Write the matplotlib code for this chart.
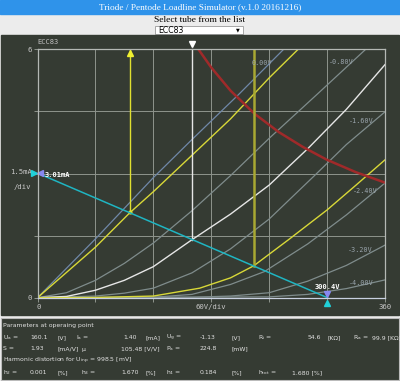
import numpy as np
import matplotlib.pyplot as plt
from matplotlib.patches import Rectangle

plt.rcParams['mathtext.default'] = 'regular'

# characteristic curves: anode voltage [V], anode current [mA]
va_g0 = [0, 60, 120, 160, 208, 255]
ia_g0 = [0, 1.42, 2.90, 3.82, 4.90, 6.0]
va_g08 = [0, 30, 60, 90, 120, 160, 200, 240, 290, 340]
ia_g08 = [0, 0.12, 0.42, 0.83, 1.32, 2.10, 2.95, 3.85, 4.92, 6.0]
va_g16 = [0, 60, 90, 120, 160, 200, 240, 287, 320, 360]
ia_g16 = [0, 0.04, 0.11, 0.23, 0.60, 1.18, 1.90, 2.95, 3.70, 4.49]
va_g24 = [0, 120, 160, 200, 235, 280, 320, 360]
ia_g24 = [0, 0.01, 0.08, 0.32, 0.63, 1.30, 2.00, 2.77]
va_g32 = [0, 160, 200, 240, 280, 320, 360]
ia_g32 = [0, 0.01, 0.04, 0.12, 0.40, 0.78, 1.27]
va_g40 = [0, 240, 280, 320, 360]
ia_g40 = [0, 0.02, 0.08, 0.22, 0.43]
grid_labels = ["0.00V", "-0.80V", "-1.60V", "-2.40V", "-3.20V", "-4.00V"]

# operating point curve (-1.13 V) and the two swing curves
va_op = [0, 30, 60, 90, 120, 160, 200, 240, 280, 320, 360]
ia_op = [0, 0.03, 0.18, 0.42, 0.75, 1.40, 2.02, 2.72, 3.60, 4.55, 5.63]
va_hi = [0, 60, 96, 120, 155, 200, 240, 270]
ia_hi = [0, 1.22, 2.06, 2.56, 3.33, 4.32, 5.31, 6.0]
va_lo = [0, 60, 120, 168, 200, 224, 260, 300, 330, 360]
ia_lo = [0, 0.005, 0.04, 0.23, 0.48, 0.77, 1.40, 2.12, 2.72, 3.33]

# max dissipation curve
va_pmax = [166.7, 180, 200, 225, 250, 275, 300, 330, 360]
ia_pmax = [6.0, 5.56, 5.0, 4.44, 4.0, 3.64, 3.33, 3.03, 2.78]

# load line and points
load_va = [0, 300.4]
load_ia = [3.01, 0]
op_va, op_ia = 160.1, 1.40
swing_va = [96.3, 224.0]
swing_ia = [2.06, 0.77]

dark = '#353b33'
gridc = '#8e948c'

fig = plt.figure(figsize=(4, 3.81), dpi=100)
fig.patch.set_facecolor('#ececec')

bg = fig.add_axes([0, 0, 1, 1])
bg.set_xlim(0, 400)
bg.set_ylim(381, 0)
bg.axis('off')

# title bar
bg.add_patch(Rectangle((0, 0), 400, 14, color='#2f93ea'))
bg.text(200, 7.3, "Triode / Pentode Loadline Simulator (v.1.0 20161216)", color='white',
        ha='center', va='center', fontsize=6.7, family='Liberation Serif')
bg.text(200, 20.5, "Select tube from the list", ha='center', va='center', fontsize=6.8,
        family='Liberation Serif', color='black')
bg.add_patch(Rectangle((155, 25.8), 88, 8.4, facecolor='white', edgecolor='#999999', lw=0.6))
bg.text(158, 30.2, "ECC83", ha='left', va='center', fontsize=5.6, color='black')
bg.text(238, 30.2, "▼", ha='center', va='center', fontsize=3.5, color='black')

# dark panels
bg.add_patch(Rectangle((1, 34.5), 398, 280.5, color=dark))
bg.add_patch(Rectangle((1, 317.5), 398, 62.5, facecolor=dark, edgecolor='#bbbbbb', lw=0.8))
bg.text(37, 42, "ECC83", ha='left', va='center', fontsize=5, color='#c0c0c0',
        family='DejaVu Sans Mono')

# axis texts
tc = '#c8c8c8'
mono = 'DejaVu Sans Mono'
bg.text(32, 49.5, "6", ha='right', va='center', fontsize=5.2, color=tc, family=mono)
bg.text(32, 298.5, "0", ha='right', va='center', fontsize=5.2, color=tc, family=mono)
bg.text(31.5, 172, "1.5mA", ha='right', va='center', fontsize=5.2, color=tc, family=mono)
bg.text(31.5, 186.5, "/div", ha='right', va='center', fontsize=5.2, color=tc, family=mono)
bg.text(39, 307, "0", ha='center', va='center', fontsize=5.2, color=tc, family=mono)
bg.text(211, 307, "60V/div", ha='center', va='center', fontsize=5.2, color=tc, family=mono)
bg.text(385, 307, "360", ha='center', va='center', fontsize=5.2, color=tc, family=mono)

# parameter table
pc = '#e2e2e2'
fs = 4.4
rows = [
    (326, [(3, "Parameters at operaing point")]),
    (337.5, [(3, "U$_a$ ="), (30, "160.1"), (58, "[V]"), (76, "I$_a$ ="), (123, "1.40"),
             (146, "[mA]"), (166, "U$_g$ ="), (200, "-1.13"), (231, "[V]"), (258, "R$_i$ ="),
             (308, "54.6"), (328, "[KΩ]"), (353, "R$_a$ ="), (372, "99.9 [KΩ]")]),
    (349, [(3, "S ="), (30, "1.93"), (58, "[mA/V]"), (81, "µ"), (121, "105.48 [V/V]"),
           (166, "P$_a$ ="), (200, "224.8"), (231, "[mW]")]),
    (361, [(3, "Harmonic distortion for U$_{inp}$ = 998.5 [mV]")]),
    (373, [(3, "h$_2$ ="), (30, "0.001"), (58, "[%]"), (81, "h$_3$ ="), (121, "1.670"),
           (146, "[%]"), (166, "h$_4$ ="), (200, "0.184"), (231, "[%]"), (258, "h$_{tot}$ ="),
           (292, "1.680 [%]")]),
]
for y, items in rows:
    for x, s in items:
        bg.text(x, y, s, ha='left', va='center', fontsize=fs, color=pc)

# plot area
x0, x1, y0, y1 = 37.5, 385, 49.3, 297.7
ax = fig.add_axes([x0 / 400, (381 - y1) / 381, (x1 - x0) / 400, (y1 - y0) / 381])
ax.set_facecolor(dark)
ax.set_xlim(0, 360)
ax.set_ylim(0, 6)
ax.set_xticks(np.arange(0, 361, 60))
ax.set_yticks(np.arange(0, 6.1, 1.5))
ax.tick_params(length=3, color=gridc, width=0.7, labelbottom=False, labelleft=False)
ax.grid(True, color=gridc, lw=0.7)
for s in ax.spines.values():
    s.set_color('#b4b8b4')
    s.set_linewidth(0.9)
ax.spines['bottom'].set_color('#c8d0e0')

gray_c = '#7f8c8c'
ax.plot(va_g0, ia_g0, color='#7088a8', lw=0.9)
for va, ia in [(va_g08, ia_g08), (va_g16, ia_g16), (va_g24, ia_g24),
               (va_g32, ia_g32), (va_g40, ia_g40)]:
    ax.plot(va, ia, color=gray_c, lw=0.9)
ax.plot(va_op, ia_op, color='#e6e6e6', lw=1.0)
ax.plot(va_hi, ia_hi, color='#d8d838', lw=1.0)
ax.plot(va_lo, ia_lo, color='#d8d838', lw=1.0)
ax.plot(va_pmax, ia_pmax, color='#a02a2a', lw=1.8)

# grid voltage labels
lab_pos = [(232, 5.68), (315, 5.70), (335, 4.28), (339, 2.58), (334, 1.15), (335, 0.36)]
for (px, py), s in zip(lab_pos, grid_labels):
    ax.text(px, py, s, color='#9aa5ad', fontsize=4.9, family=mono, ha='center', va='center')

# verticals for operating point and swing
ax.plot([op_va, op_va], [op_ia, 6], color='#e6e6e6', lw=1.0, clip_on=False)
ax.plot([swing_va[0], swing_va[0]], [swing_ia[0], 6], color='#e0e030', lw=1.0)
ax.plot([swing_va[1], swing_va[1]], [swing_ia[1], 6], color='#a8a832', lw=1.8)
ax.plot(swing_va[0], 5.9, marker='^', color='#f0f030', ms=4.5, clip_on=False)
ax.plot(op_va, 6.14, marker='v', color='white', ms=4.5, clip_on=False)
ax.plot(swing_va[0], swing_ia[0], 'o', color='#e0e030', ms=2)

# load line
ax.plot(load_va, load_ia, color='#1fb5c2', lw=1.1)
ax.plot(load_va[0] - 4, load_ia[0], marker='>', color='#20d0d8', ms=4.5, clip_on=False)
ax.plot(load_va[0] + 3, load_ia[0], marker='<', color='#8888f0', ms=4.5, clip_on=False)
ax.text(7, 2.96, "3.01mA", color='white', fontsize=5, family=mono, weight='bold',
        ha='left', va='center')
ax.plot(load_va[1], 0.08, marker='v', color='#8888f0', ms=4.5, clip_on=False)
ax.plot(load_va[1], -0.12, marker='^', color='#20d0d8', ms=4.5, clip_on=False)
ax.text(load_va[1], 0.25, "300.4V", color='white', fontsize=5, family=mono, weight='bold',
        ha='center', va='center')

plt.savefig('out.png', dpi=100, facecolor=fig.get_facecolor())
